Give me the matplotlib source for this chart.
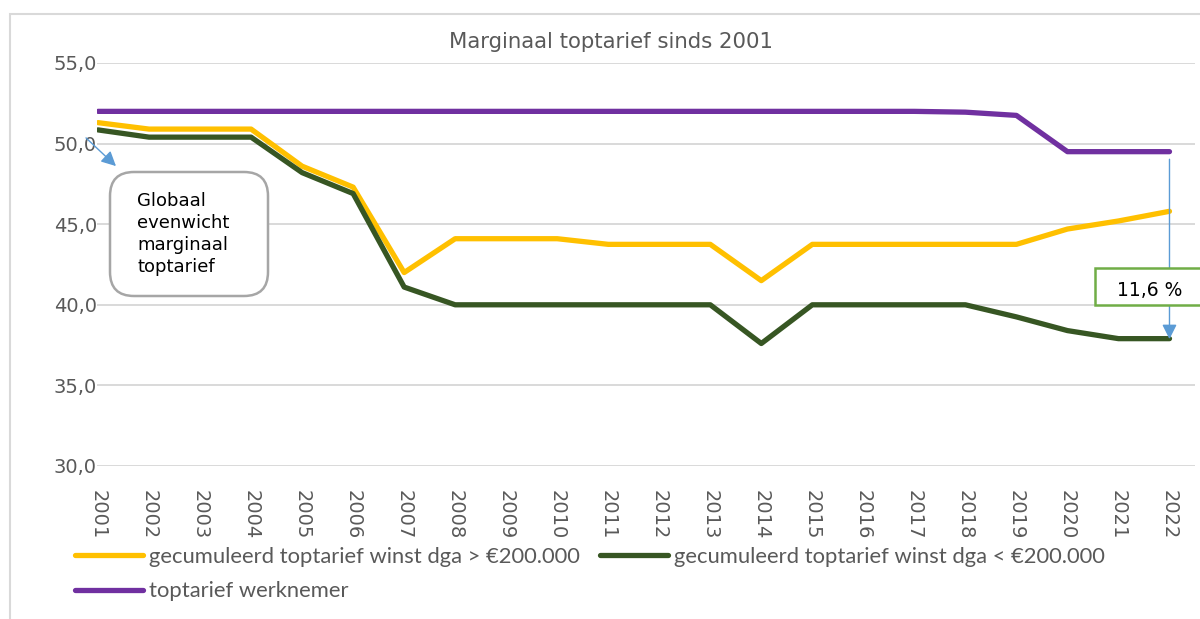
import numpy as np
import matplotlib.pyplot as plt
from matplotlib.patches import FancyBboxPatch, Rectangle

# data
years = list(range(2001, 2023))
dga_boven = [51.3, 50.9, 50.9, 50.9, 48.6, 47.3, 42.0, 44.1, 44.1, 44.1, 43.75,
             43.75, 43.75, 41.5, 43.75, 43.75, 43.75, 43.75, 43.75, 44.7, 45.2, 45.8]
dga_onder = [50.85, 50.4, 50.4, 50.4, 48.2, 46.9, 41.1, 40.0, 40.0, 40.0, 40.0,
             40.0, 40.0, 37.6, 40.0, 40.0, 40.0, 40.0, 39.25, 38.4, 37.9, 37.9]
werknemer = [52.0] * 17 + [51.95, 51.75, 49.5, 49.5, 49.5]
labels = ['gecumuleerd toptarief winst dga > €200.000',
          'gecumuleerd toptarief winst dga < €200.000',
          'toptarief werknemer']
yticks = [30, 35, 40, 45, 50, 55]

grey = '#595959'
W, H = 1200, 619
fig = plt.figure(figsize=(12, 6.19), dpi=100)
ax = fig.add_axes([97 / W, 1 - 466 / H, 1098 / W, 403 / H])

l1, = ax.plot(years, dga_boven, color='#ffc000', lw=3.8, solid_capstyle='round', zorder=3)
l2, = ax.plot(years, dga_onder, color='#375623', lw=3.8, solid_capstyle='round', zorder=3)
l3, = ax.plot(years, werknemer, color='#7030a0', lw=3.8, solid_capstyle='round', zorder=3)

ax.set_ylim(30, 55)
ax.set_xlim(2000.98, 2022.5)
ax.set_yticks(yticks)
ax.set_yticklabels([f'{v},0' for v in yticks], fontsize=14, color=grey)
ax.set_xticks(years)
ax.set_xticklabels([str(y) for y in years], rotation=-90, fontsize=14, color=grey)
ax.tick_params(length=0)
ax.tick_params(axis='x', pad=17)
ax.tick_params(axis='y', pad=0)
ax.grid(axis='y', color='#d9d9d9', lw=1.4)
for s in ax.spines.values():
    s.set_visible(False)
fig.text(611 / W, 1 - 42 / H, 'Marginaal toptarief sinds 2001', fontsize=15.3,
         color=grey, ha='center', va='center')

# annotation box on the left
box = FancyBboxPatch((110 / W, 1 - 296 / H), 158 / W, 124 / H,
                     boxstyle='round,pad=0,rounding_size=0.02', transform=fig.transFigure,
                     facecolor='white', edgecolor='#a6a6a6', lw=1.8, mutation_aspect=1.94)
fig.patches.append(box)
fig.text(137 / W, 1 - 234 / H, 'Globaal\nevenwicht\nmarginaal\ntoptarief',
         fontsize=13, color='black', va='center', ha='left', linespacing=1.3)
ax.annotate('', xy=(118 / W, 1 - 168 / H), xytext=(84 / W, 1 - 136 / H),
            xycoords='figure fraction', textcoords='figure fraction',
            arrowprops=dict(arrowstyle='-|>', color='#5b9bd5', lw=1, mutation_scale=22))

# difference marker on the right
ax.annotate('', xy=(2022, 37.7), xytext=(2022, 49.2),
            arrowprops=dict(arrowstyle='-|>', color='#5b9bd5', lw=1, mutation_scale=22),
            zorder=4)
rect = Rectangle((1095 / W, 1 - 305 / H), 120 / W, 37 / H,
                 transform=fig.transFigure, facecolor='white', edgecolor='#70ad47',
                 lw=1.8, zorder=5)
fig.patches.append(rect)
fig.text(1150 / W, 1 - 291 / H, '11,6 %', fontsize=13.5, ha='center', va='center',
         color='black', zorder=6)

# outer chart border
fig.patches.append(Rectangle((10 / W, -0.05), 1.2, 1 - 14 / H + 0.05,
                             transform=fig.transFigure, fill=False,
                             edgecolor='#d9d9d9', lw=1.5))

leg = fig.legend([l1, l3, l2], [labels[0], labels[2], labels[1]], ncol=2,
                 loc='upper left', bbox_to_anchor=(75 / W, 1 - 547 / H), frameon=False,
                 prop={'family': ['Lato', 'DejaVu Sans'], 'size': 15.8},
                 handlelength=3.1, handletextpad=0.25, columnspacing=0.95,
                 labelspacing=0.66, labelcolor=grey, borderpad=0, borderaxespad=0)

fig.savefig('out.png', dpi=100)
